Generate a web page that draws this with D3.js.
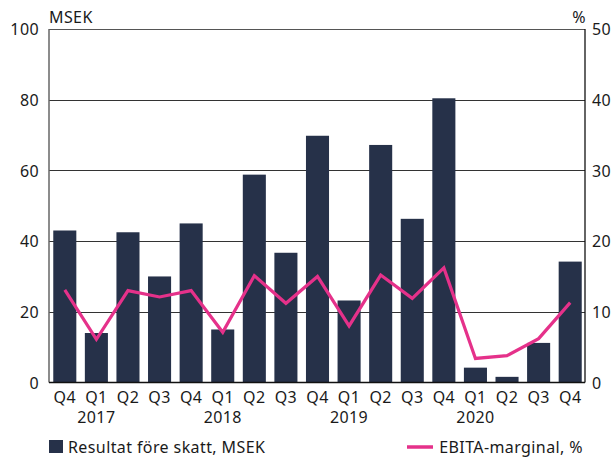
<!DOCTYPE html>
<meta charset="utf-8">
<style>
  body { margin: 0; background: #fff; }
  text { font-family: "Noto Sans", sans-serif; fill: #1a1a1a; letter-spacing: 0.4px; }
</style>
<svg width="616" height="457"></svg>
<script src="https://cdn.jsdelivr.net/npm/d3@7"></script>
<script>

var quarters = ["Q4","Q1","Q2","Q3","Q4","Q1","Q2","Q3","Q4","Q1","Q2","Q3","Q4","Q1","Q2","Q3","Q4"];
var years = ["","2017","","","","2018","","","","2019","","","","2020","","",""];
var resultat = [43, 14, 42.5, 30, 45, 15, 58.8, 36.7, 69.8, 23.2, 67.2, 46.3, 80.4, 4.2, 1.6, 11.2, 34.2];
var ebita = [13.1, 6.1, 13, 12.1, 13, 7.1, 15.1, 11.2, 15, 8, 15.2, 11.9, 16.2, 3.4, 3.8, 6.2, 11.3];
var leftTicks = [0, 20, 40, 60, 80, 100];
var rightTicks = [0, 10, 20, 30, 40, 50];

var svg = d3.select("svg");
var plotLeft = 49, plotRight = 585, plotTop = 29, plotBottom = 382.5;

var x = d3.scaleBand()
    .domain(d3.range(quarters.length))
    .range([plotLeft, 586])
    .paddingInner(0.27)
    .paddingOuter(0.135);

var y = d3.scaleLinear().domain([0, 100]).range([plotBottom, plotTop]);
var y2 = d3.scaleLinear().domain([0, 50]).range([plotBottom, plotTop]);

// gridlines
svg.append("g")
  .selectAll("line")
  .data(leftTicks.filter(function(d){ return d > 0; }))
  .enter().append("line")
    .attr("x1", plotLeft).attr("x2", plotRight)
    .attr("y1", function(d){ return Math.round(y(d)) + 0.5; })
    .attr("y2", function(d){ return Math.round(y(d)) + 0.5; })
    .attr("stroke", function(d){ return d == 100 ? "#555" : "#333"; })
    .attr("stroke-width", 1.2);

// bars
svg.append("g")
  .selectAll("rect")
  .data(resultat)
  .enter().append("rect")
    .attr("x", function(d, i){ return x(i); })
    .attr("width", x.bandwidth())
    .attr("y", function(d){ return y(d); })
    .attr("height", function(d){ return plotBottom - y(d); })
    .attr("fill", "#263149");

// axis frame
svg.append("line").attr("x1", plotLeft).attr("x2", plotLeft).attr("y1", plotTop).attr("y2", plotBottom)
  .attr("stroke", "#666").attr("stroke-width", 1.5);
svg.append("line").attr("x1", plotRight).attr("x2", plotRight).attr("y1", plotTop).attr("y2", plotBottom)
  .attr("stroke", "#111").attr("stroke-width", 1.3);
svg.append("line").attr("x1", plotLeft).attr("x2", plotRight).attr("y1", plotBottom).attr("y2", plotBottom)
  .attr("stroke", "#111").attr("stroke-width", 1.5);

// EBITA line
var line = d3.line()
    .x(function(d, i){ return x(i) + x.bandwidth() / 2; })
    .y(function(d){ return y2(d); });

svg.append("path")
  .datum(ebita)
  .attr("d", line)
  .attr("fill", "none")
  .attr("stroke", "#e5318a")
  .attr("stroke-width", 3.2)
  .attr("stroke-linejoin", "miter");

// y axes
var yAxis = d3.axisLeft(y).tickValues(leftTicks).tickSize(0).tickPadding(10);
var gy = svg.append("g").attr("transform", "translate(" + plotLeft + ",0)").call(yAxis);
gy.select(".domain").remove();
gy.selectAll("text").style("font-size", "16px").attr("dy", "0.35em");

var y2Axis = d3.axisRight(y2).tickValues(rightTicks).tickSize(0).tickPadding(7);
var gy2 = svg.append("g").attr("transform", "translate(" + plotRight + ",0)").call(y2Axis);
gy2.select(".domain").remove();
gy2.selectAll("text").style("font-size", "16px").attr("dy", "0.35em");

// x axis labels
var xAxis = d3.axisBottom(x).tickSize(0).tickPadding(9)
    .tickFormat(function(i){ return quarters[i]; });
var gx = svg.append("g").attr("transform", "translate(0," + plotBottom + ")").call(xAxis);
gx.select(".domain").remove();
gx.selectAll("text").style("font-size", "16px");

svg.append("g")
  .selectAll("text")
  .data(years)
  .enter().append("text")
    .attr("x", function(d, i){ return x(i) + x.bandwidth() / 2; })
    .attr("y", 423)
    .attr("text-anchor", "middle")
    .style("font-size", "16px")
    .text(function(d){ return d; });

// unit labels
svg.append("text").attr("x", plotLeft).attr("y", 23).style("font-size", "16px").text("MSEK");
svg.append("text").attr("x", 586).attr("y", 23).attr("text-anchor", "end").style("font-size", "16px").text("%");

// legend
svg.append("rect").attr("x", 49).attr("y", 440).attr("width", 14).attr("height", 13).attr("fill", "#263149");
svg.append("text").attr("x", 68).attr("y", 453).style("font-size", "16px").text("Resultat före skatt, MSEK");
svg.append("line").attr("x1", 407).attr("x2", 433).attr("y1", 447).attr("y2", 447)
  .attr("stroke", "#e5318a").attr("stroke-width", 3.5);
svg.append("text").attr("x", 583).attr("y", 453).attr("text-anchor", "end").style("font-size", "16px").text("EBITA-marginal, %");

</script>
